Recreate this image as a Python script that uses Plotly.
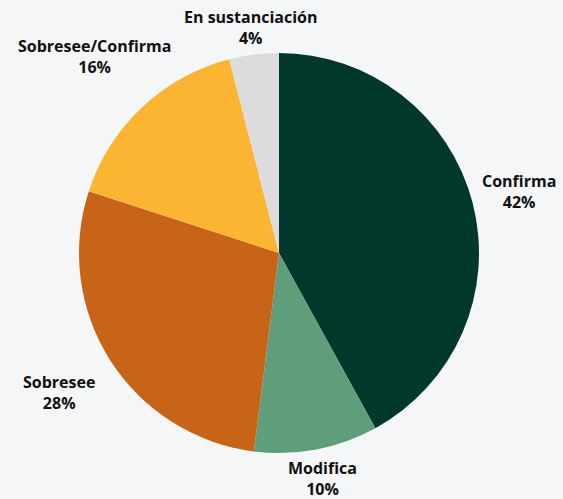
import math
import plotly.graph_objects as go

labels = ["Confirma", "Modifica", "Sobresee", "Sobresee/Confirma", "En sustanciación"]
values = [42, 10, 28, 16, 4]
colors = ["#00392b", "#5f9e7a", "#c86417", "#fbb532", "#dcdcdc"]
# radial distance of each label's centre, in pie radii (style)
label_dist = [1.24, 1.15, 1.30, 1.35, 1.135]

fig = go.Figure(go.Pie(
    labels=labels,
    values=values,
    sort=False,
    direction="clockwise",
    rotation=0,
    automargin=False,
    marker=dict(colors=colors, line=dict(width=0)),
    textinfo="none",
    showlegend=False,
    hoverinfo="label+percent",
))

total = sum(values)
cum = 0.0
annotations = []
for lab, v, k in zip(labels, values, label_dist):
    mid = (cum + v / 2) / total * 2 * math.pi
    cum += v
    x = 0.5 + 0.5 * k * math.sin(mid)
    y = 0.5 + 0.5 * k * math.cos(mid)
    annotations.append(dict(
        x=x, y=y, xref="paper", yref="paper",
        xanchor="center", yanchor="middle",
        text=f"<b>{lab}</b><br><b>{round(v / total * 100)}%</b>",
        showarrow=False,
        font=dict(family="Open Sans", size=16, color="#111111"),
    ))

fig.update_layout(
    width=563, height=499,
    paper_bgcolor="#f5f6f8",
    plot_bgcolor="#f5f6f8",
    margin=dict(l=79, r=84, t=53, b=46),
    annotations=annotations,
)

fig.write_html(
    "out.html",
    config={"displayModeBar": False},
    post_script="document.body.style.margin='0';document.body.style.background='#f5f6f8';",
)
